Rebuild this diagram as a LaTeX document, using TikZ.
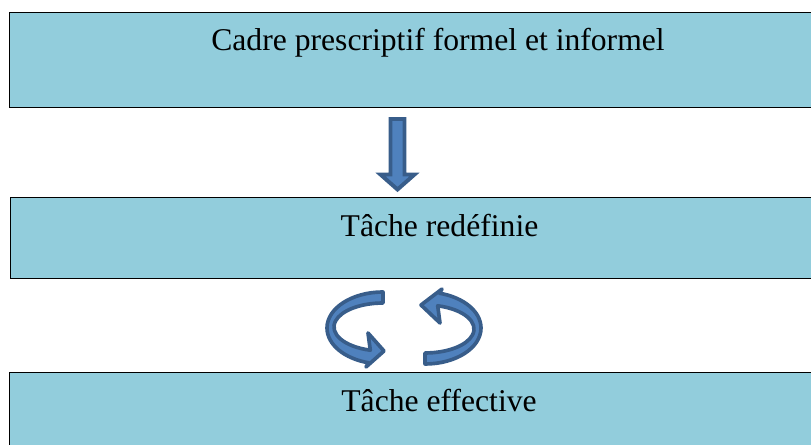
\documentclass[tikz,border=0pt]{standalone}
\usepackage{fontspec}
\setmainfont{Liberation Serif}
\usetikzlibrary{positioning}
\definecolor{boxfill}{HTML}{92CDDC}
\definecolor{arrfill}{HTML}{4F81BD}
\definecolor{arrline}{HTML}{385D8A}

\begin{document}
\begin{tikzpicture}[
	x = 0.025cm, y = -0.025cm,
	box/.style = {draw, line width=1pt, fill=boxfill, rectangle, inner sep=0pt,
		anchor=north west, minimum width=20.5cm},
	lbl/.style = {anchor=base, inner sep=0pt, font=\fontsize{22.5}{27}\selectfont},
	blockarrow/.style = {draw=arrline, fill=arrfill, line width=2.8pt, line join=miter},
	cycarrow/.style = {draw=arrline, fill=arrfill, line width=2.6pt, line join=round}
	]
	
	\useasboundingbox (0,0) rectangle (811,445);
	\clip (0,0) rectangle (811,445);
	
	% the three boxes
	\node[box, minimum height=2.375cm] (cadre) at (9,12) {};
	\node[box, minimum height=2.025cm] (redef) at (10,197) {};
	\node[box, minimum height=2.2cm] (effect) at (9,372) {};
	
	\node[lbl] (cadretxt) at (438,51) {Cadre prescriptif formel et informel};
	\node[lbl] (redeftxt) at (439.5,237) {Tâche redéfinie};
	\node[lbl] (effecttxt) at (439,412) {Tâche effective};
	
	% down arrow between cadre and redef
	\draw[blockarrow] (390.5,119) -- (404.5,119) -- (404.5,174.5) -- (414.5,174.5)
		-- (397.5,189.5) -- (380.5,174.5) -- (390.5,174.5) -- cycle;
	
	% circular arrows between redef and effect
	\begin{scope}
	\draw[cycarrow] (383,292) arc[start angle=270, end angle=105, x radius=56, y radius=36]
		-- (366,367) -- (384,351) -- (368,333)
		-- (370.3,350.2) arc[start angle=105, end angle=270, x radius=49, y radius=24]
		-- cycle;
	\end{scope}
	\begin{scope}[rotate around={180:(404,328)}]
	\draw[cycarrow] (383,292) arc[start angle=270, end angle=105, x radius=56, y radius=36]
		-- (366,367) -- (387,351) -- (368,333)
		-- (370.3,350.2) arc[start angle=105, end angle=270, x radius=49, y radius=24]
		-- cycle;
	\end{scope}
	
\end{tikzpicture}
\end{document}
